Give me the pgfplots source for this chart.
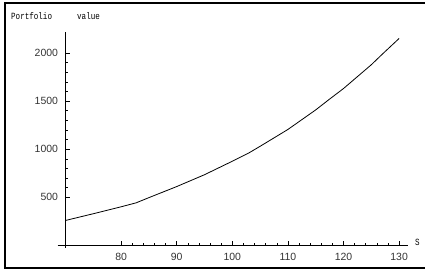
\documentclass[border=0pt]{standalone}
\usepackage{fontspec}
\setmainfont{Liberation Sans}
\newfontfamily\lblfont[FakeStretch=0.8]{Liberation Mono}
\usepackage{pgfplots}
\pgfplotsset{compat=1.18}
\begin{document}
\begin{tikzpicture}[x=1bp,y=1bp]
\path[use as bounding box] (0,0) rectangle (425,270);
\draw[line width=2bp] (426,267) -- (5,267) -- (5,2.2) -- (426,2.2);
\begin{axis}[
  at={(65.5bp,24.5bp)}, anchor=south west,
  scale only axis, width=342.5bp, height=213.3bp,
  xmin=70, xmax=131.6, ymin=0, ymax=2215,
  axis lines=left, axis line style={-, line width=0.6bp},
  clip=false,
  xtick={80,90,100,110,120,130},
  ytick={500,1000,1500,2000},
  minor x tick num=4, minor y tick num=4,
  tick align=inside,
  major tick length=4.5bp, minor tick length=2.5bp,
  tick style={line width=0.5bp, black},
  /pgf/number format/assume math mode=true,
  /pgf/number format/1000 sep={},
  ticklabel style={font=\fontsize{10.5}{12}\selectfont, text=black!80},
  yticklabel style={xshift=-4bp},
  xticklabel style={yshift=-4.5bp},
]
\draw[line width=0.6bp] (axis cs:68.6,0) -- (axis cs:70,0);
\draw[line width=0.6bp] (axis cs:70,0) -- (axis cs:70,-30);
\addplot[black, line width=0.8bp, line join=round] coordinates {
(70,260) (75,330) (80,402) (82.7,443) (85,497) (90,612) (95,735) (100,875)
(103,962) (105,1030) (110,1205) (115,1408) (117.4,1516) (120,1630)
(125,1877) (127,1988) (130,2150)
};
\end{axis}
\node[anchor=base west, inner sep=0, font=\lblfont\fontsize{9.5}{11}\selectfont] at (11,250.5) {Portfolio};
\node[anchor=base west, inner sep=0, font=\lblfont\fontsize{9.5}{11}\selectfont] at (77,250.5) {value};
\node[anchor=west, inner sep=0, font=\lblfont\fontsize{9.5}{11}\selectfont] at (415,28) {S};
\end{tikzpicture}
\end{document}
